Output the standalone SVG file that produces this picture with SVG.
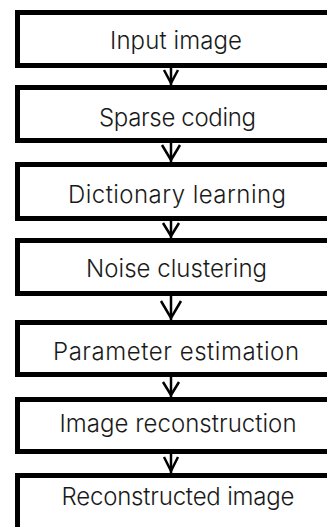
<svg xmlns="http://www.w3.org/2000/svg" width="327" height="527" viewBox="0 0 327 527">
<style>
.box{fill:#fff;stroke:#000;stroke-width:5}
.lbl{font-family:"Inter","Open Sans",sans-serif;font-weight:300;font-size:24px;fill:#1a1a1a;text-anchor:middle}
.con line{stroke:#000;stroke-width:2.5}
.con polyline{fill:none;stroke:#000;stroke-width:2.5}
</style>
<rect width="327" height="527" fill="#fff"/>
<g id="n1"><rect class="box" x="17.5" y="12.5" width="340" height="53"/><text class="lbl" x="176" y="49" textLength="132">Input image</text></g>
<g id="n2"><rect class="box" x="17.5" y="87.5" width="340" height="53"/><text class="lbl" x="177.5" y="126" textLength="157">Sparse coding</text></g>
<g id="n3"><rect class="box" x="17.5" y="164.5" width="340" height="54"/><text class="lbl" x="177" y="203" textLength="218">Dictionary learning</text></g>
<g id="n4"><rect class="box" x="17.5" y="240.5" width="340" height="53"/><text class="lbl" x="176.5" y="277" textLength="181">Noise clustering</text></g>
<g id="n5"><rect class="box" x="17.5" y="322.5" width="340" height="52"/><text class="lbl" x="176" y="360" textLength="246">Parameter estimation</text></g>
<g id="n6"><rect class="box" x="17.5" y="399.5" width="340" height="52"/><text class="lbl" x="178" y="432" textLength="237">Image reconstruction</text></g>
<g id="n7"><rect class="box" x="17.5" y="475.5" width="340" height="70"/><text class="lbl" x="178" y="505" textLength="233">Reconstructed image</text></g>
<g id="connectors" class="con">
<line x1="171" y1="68" x2="171" y2="85"/><polyline points="164,70 171,83 178,70"/>
<line x1="171" y1="143" x2="171" y2="162"/><polyline points="162,145 171,160 180,145"/>
<line x1="171" y1="221" x2="171" y2="238"/><polyline points="163,223 171,236 179,223"/>
<line x1="171" y1="296" x2="171" y2="320"/><polyline points="161,301 171,318 181,301"/>
<line x1="171" y1="377" x2="171" y2="397"/><polyline points="163,382 171,395 179,382"/>
<line x1="171" y1="454" x2="171" y2="473"/><polyline points="164,457 171,471 178,457"/>
</g>
</svg>
